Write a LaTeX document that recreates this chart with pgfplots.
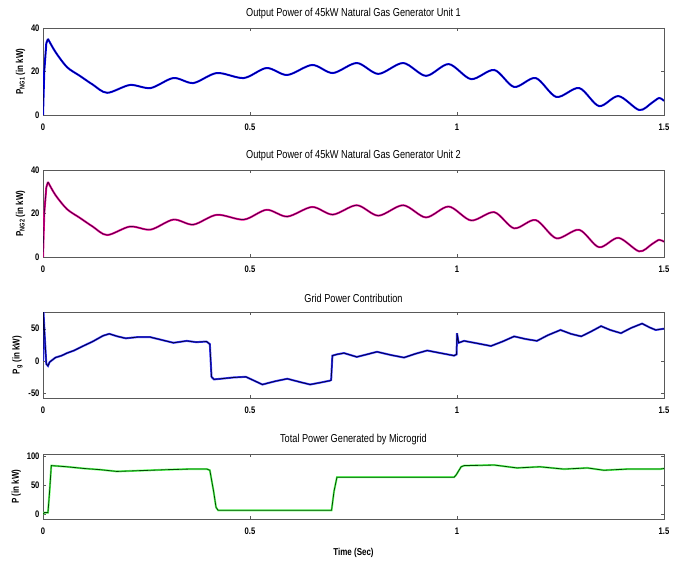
\documentclass[border=0pt]{standalone}
\usepackage{pgfplots}
\pgfplotsset{compat=1.18}
\usepackage{fontspec}
\setmainfont{Liberation Sans}[FakeStretch=0.8]
\begin{document}
\pgfplotstableread{
t v
0.012 35
0.03 29
0.058 22
0.089 18
0.12 14
0.155 10.2
0.21 13.8
0.26 12.4
0.315 17
0.363 14.7
0.42 19.3
0.485 17
0.54 21.6
0.59 18.4
0.65 23
0.70 19.3
0.758 23.9
0.81 18.9
0.87 23.9
0.925 18
0.98 23.4
1.034 16.5
1.09 20.7
1.138 12.9
1.19 17
1.24 8.3
1.295 12.4
1.343 4.1
1.39 8.7
1.44 2.3
1.47 5.5
1.488 7.8
1.5 6.5
}\ngone
\pgfplotstableread{
t v
0.012 34.5
0.03 28.5
0.058 22
0.089 18
0.12 14
0.155 10.1
0.21 14
0.26 12.6
0.315 17.2
0.363 14.9
0.42 19.4
0.485 17.2
0.54 21.7
0.59 18.6
0.65 23
0.70 19.5
0.758 23.8
0.81 19
0.87 23.8
0.925 18.2
0.98 23.2
1.034 16.8
1.09 20.6
1.138 13.2
1.19 17
1.24 8.6
1.295 12.5
1.343 4.5
1.39 8.8
1.44 2.6
1.47 5.8
1.488 7.9
1.5 7
}\ngtwo
\pgfplotstableread{
t v
0 0
0.001 78
0.004 40
0.008 -5
0.012 -8
0.016 -2
0.03 5
0.045 8
0.058 12
0.075 16
0.097 23
0.12 30
0.145 39
0.16 42
0.18 38
0.2 35
0.23 37
0.258 37
0.29 32
0.315 28
0.347 31
0.37 29
0.395 30
0.403 26
0.407 -25
0.413 -29
0.43 -28
0.46 -26
0.49 -25
0.51 -31
0.53 -37
0.56 -32
0.59 -28
0.62 -33
0.645 -37
0.67 -34
0.693 -31
0.696 -30
0.699 8
0.71 10
0.727 12
0.758 6
0.807 14
0.84 9
0.872 5
0.9 11
0.928 16
0.96 12
0.993 8
0.999 10
1.0 43
1.004 28
1.017 31
1.05 27
1.082 23
1.11 30
1.138 38
1.165 34
1.193 31
1.22 40
1.25 48
1.275 42
1.3 38
1.325 46
1.348 54
1.37 48
1.396 43
1.42 51
1.447 58
1.465 52
1.48 48
1.5 50
}\grid
\pgfplotstableread{
t v
0 0
0.003 3
0.012 3
0.016 40
0.02 84
0.04 83
0.058 82
0.1 79
0.138 77
0.178 74
0.22 75
0.26 76
0.3 77
0.35 78
0.396 78
0.403 76
0.412 40
0.418 12
0.423 7
0.5 7
0.6 7
0.697 7
0.703 40
0.71 64
0.727 64
0.85 64
0.993 64
0.998 68
1.01 82
1.017 84
1.09 85
1.145 80
1.2 82
1.258 78
1.315 80
1.355 76
1.41 78
1.49 78
1.5 79
}\total
\begin{tikzpicture}
\useasboundingbox (0,0) rectangle (688pt,-562pt);
\pgfplotsset{
  every axis/.append style={
    scale only axis, width=621pt, anchor=north west,
    xmin=0, xmax=1.5, xtick={0,0.5,1,1.5},
    xticklabels={0,0.5,1,1.5},
    tick align=inside, tick pos=both,
    major tick length=3pt,
    axis line style={gray!70!black, line width=0.7pt},
    tick style={gray!70!black},
    /pgf/number format/assume math mode=true,
    tick label style={font=\fontsize{9.5}{10}\selectfont\bfseries},
    xticklabel style={yshift=-5pt},
    label style={font=\fontsize{10}{11}\selectfont\bfseries},
    title style={font=\fontsize{11.5}{12}\selectfont, yshift=0pt},
    ylabel style={yshift=-1pt},
  }
}
\begin{axis}[at={(43pt,-28pt)}, height=87pt, ymin=0, ymax=40, ytick={0,20,40},
  title={Output Power of 45kW Natural Gas Generator Unit 1},
  ylabel={P\textsubscript{NG1} (in kW)}]
\addplot[blue, line width=2pt] coordinates {(0,0) (0.003,20) (0.008,33) (0.012,35)};
\addplot[blue, line width=2pt, smooth, tension=0.5] table[x=t,y=v] {\ngone};
\addplot[blue!40!black, line width=0.7pt] coordinates {(0,0) (0.003,20) (0.008,33) (0.012,35)};
\addplot[blue!40!black, line width=0.7pt, smooth, tension=0.5] table[x=t,y=v] {\ngone};
\end{axis}
\begin{axis}[at={(43pt,-170pt)}, height=87pt, ymin=0, ymax=40, ytick={0,20,40},
  title={Output Power of 45kW Natural Gas Generator Unit 2},
  ylabel={P\textsubscript{NG2} (in kW)}]
\addplot[magenta, line width=2pt] coordinates {(0,0) (0.003,20) (0.008,32) (0.012,34.5)};
\addplot[magenta, line width=2pt, smooth, tension=0.5] table[x=t,y=v] {\ngtwo};
\addplot[violet!50!black, line width=0.7pt] coordinates {(0,0) (0.003,20) (0.008,32) (0.012,34.5)};
\addplot[violet!50!black, line width=0.7pt, smooth, tension=0.5] table[x=t,y=v] {\ngtwo};
\end{axis}
\begin{axis}[at={(43pt,-312pt)}, height=86pt, ymin=-58, ymax=76, ytick={-50,0,50},
  title={Grid Power Contribution},
  ylabel={P\textsubscript{g} (in kW)}]
\addplot[blue!80, line width=2pt] table[x=t,y=v] {\grid};
\addplot[blue!25!black, line width=0.8pt] table[x=t,y=v] {\grid};
\end{axis}
\begin{axis}[at={(43pt,-454pt)}, height=65pt, ymin=-8, ymax=104, ytick={0,50,100},
  title={Total Power Generated by Microgrid},
  ylabel={P (in kW)}, xlabel={Time (Sec)}, xlabel style={yshift=-7pt}]
\addplot[green!60, line width=2pt] table[x=t,y=v] {\total};
\addplot[green!30!black, line width=0.8pt] table[x=t,y=v] {\total};
\end{axis}
\end{tikzpicture}
\end{document}
